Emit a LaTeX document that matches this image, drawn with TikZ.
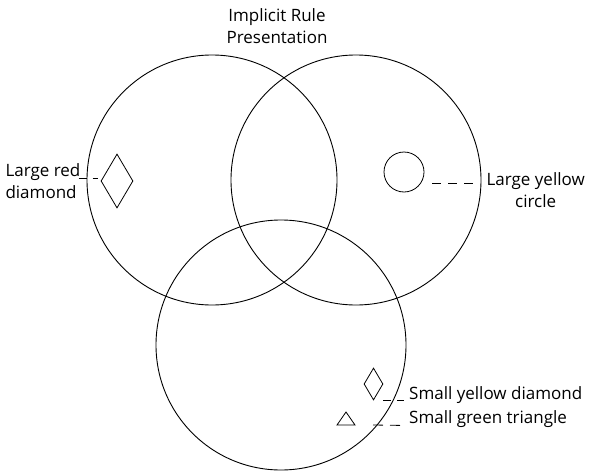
\documentclass[tikz,border=0pt]{standalone}
\usepackage{fontspec}
\setmainfont{Open Sans}
\usepackage{tikz}
\usetikzlibrary{shapes.geometric, positioning}
\tikzstyle{set} = [circle, draw, minimum size=250pt, inner sep=0pt, line width=0.9pt]
\tikzstyle{token} = [draw, inner sep=0pt, line width=0.8pt]
\tikzstyle{tag} = [inner sep=0pt, font=\fontsize{17}{21.5}\selectfont]
\tikzstyle{leader} = [line width=0.8pt, dash pattern=on 8pt off 6pt]

\begin{document}
\begin{tikzpicture}[x=1pt, y=1pt, node distance=20pt]
    \useasboundingbox (0,0) rectangle (589,-474);

    % Mengen
    \node (left) [set] at (212,-180) {};
    \node (right) [set] at (356,-180) {};
    \node (bottom) [set] at (281,-345) {};

    % Titel
    \node (title) [tag, align=center] at (277,-26) {Implicit Rule\\Presentation};

    % Figuren
    \node (reddia) [token, diamond, minimum width=32pt, minimum height=54pt] at (117,-181) {};
    \node (ylwcirc) [token, circle, minimum size=40pt] at (404,-172) {};
    \node (smdia) [token, diamond, minimum width=19pt, minimum height=32pt] at (373.5,-384) {};
    \coordinate (tri) at (346,-418.5);
    \draw [token] (tri) ++(-9,-6.5) -- ++(18,0) -- ++(-9,13) -- cycle;

    % Beschriftungen
    \node (redtag) [tag, align=left, left=20pt of reddia] {Large red\\diamond};
    \node (ylwtag) [tag, align=center, right=62pt of ylwcirc, yshift=-18pt] {Large yellow\\circle};
    \node (smdiatag) [tag, anchor=base west] at ([xshift=35.5pt, yshift=1pt]smdia.south) {Small yellow diamond};
    \node (tritag) [tag, below=24pt of smdiatag.base west, anchor=base west] {Small green triangle};

    % Hinweislinien
    \draw [leader] ([xshift=-2pt, yshift=3pt]redtag.east) -- ([xshift=-3pt, yshift=3pt]reddia.west);
    \draw [leader, dash pattern=on 9pt off 7pt, shorten >=9pt] ([xshift=8pt, yshift=-11pt]ylwcirc.east) -- ([yshift=-11pt]ylwcirc.east -| ylwtag.west);
    \draw [leader] ([xshift=9.5pt]smdia.south) -- ([xshift=-5pt]smdiatag.base west |- smdia.south);
    \draw [leader, dash pattern=on 10pt off 7pt] ([xshift=27pt, yshift=-6.5pt]tri) -- ([xshift=-9pt, yshift=-2pt]tritag.base west);
\end{tikzpicture}
\end{document}
